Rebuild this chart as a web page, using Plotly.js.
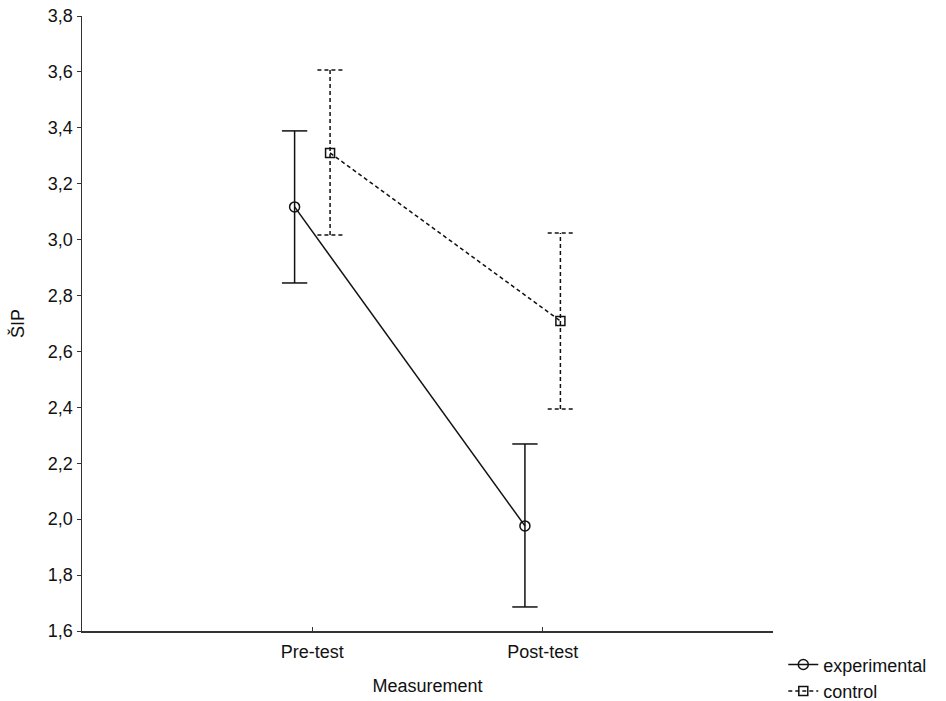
<!DOCTYPE html>
<html>
<head>
<meta charset="utf-8">
<script src="https://cdn.plot.ly/plotly-3.0.1.min.js"></script>
<style>html,body{margin:0;padding:0;background:#fff;}#chart{width:946px;height:701px;}</style>
</head>
<body>
<div id="chart"></div>
<script>
// Data
const categories = ["Pre-test", "Post-test"];
const expMean  = [3.117, 1.976];
const expUpper = [3.389, 2.269];
const expLower = [2.845, 1.686];
const ctlMean  = [3.310, 2.709];
const ctlUpper = [3.607, 3.024];
const ctlLower = [3.017, 2.394];
const yTicks = [1.6, 1.8, 2.0, 2.2, 2.4, 2.6, 2.8, 3.0, 3.2, 3.4, 3.6, 3.8];

const idx = categories.map((c, i) => i);
const off = 0.077;
const capHalf = 0.055;

function errTrace(mean, up, lo, shift, dash) {
  const xs = [], ys = [];
  idx.forEach(i => {
    const x = i + shift;
    xs.push(x, x, null, x - capHalf, x + capHalf, null, x - capHalf, x + capHalf, null);
    ys.push(lo[i], up[i], null, up[i], up[i], null, lo[i], lo[i], null);
  });
  return {type: 'scatter', mode: 'lines', x: xs, y: ys, showlegend: false, hoverinfo: 'skip',
    line: {color: '#111', width: 1.5, dash: dash}};
}

function meanTrace(name, mean, shift, dash, symbol) {
  return {
    type: 'scatter', mode: 'lines+markers', name: name,
    x: idx.map(i => i + shift), y: mean,
    line: {color: '#111', width: 1.5, dash: dash},
    marker: {symbol: symbol, size: symbol === 'circle-open' ? 10 : 9, color: '#111', line: {width: 1.5, color: '#111'}}
  };
}

const data = [
  errTrace(expMean, expUpper, expLower, -off, 'solid'),
  errTrace(ctlMean, ctlUpper, ctlLower, off, '4px,3px'),
  meanTrace('experimental', expMean, -off, 'solid', 'circle-open'),
  meanTrace('control', ctlMean, off, '4px,3px', 'square-open')
];

const layout = {
  width: 946, height: 701,
  margin: {l: 82, r: 173, t: 16, b: 70},
  paper_bgcolor: '#fff', plot_bgcolor: '#fff',
  font: {family: 'Liberation Sans, Arial, sans-serif', size: 18, color: '#111'},
  showlegend: true,
  legend: {xref: 'container', yref: 'container', x: 0.828, y: 0.078, xanchor: 'left', yanchor: 'top',
    bgcolor: 'rgba(0,0,0,0)', font: {size: 18}, tracegroupgap: 0, itemwidth: 30},
  xaxis: {
    range: [-1, 2], tickmode: 'array', tickvals: idx, ticktext: categories,
    showgrid: false, zeroline: false, showline: true, linecolor: '#333', linewidth: 1.5,
    ticks: 'inside', ticklen: 4, tickcolor: '#333', ticklabelstandoff: 4,
    automargin: false,
    title: {text: 'Measurement', font: {size: 18}, standoff: 18}
  },
  yaxis: {
    range: [1.6, 3.8], tickmode: 'array', tickvals: yTicks,
    ticktext: yTicks.map(v => v.toFixed(1).replace('.', ',')),
    showgrid: false, zeroline: false, showline: true, linecolor: '#333', linewidth: 1.5,
    ticks: 'outside', ticklen: 4, tickcolor: '#333', automargin: false,
    title: {text: 'ŠIP', font: {size: 18}, standoff: 18}
  }
};

Plotly.newPlot('chart', data, layout, {displayModeBar: false, staticPlot: true});
</script>
</body>
</html>
